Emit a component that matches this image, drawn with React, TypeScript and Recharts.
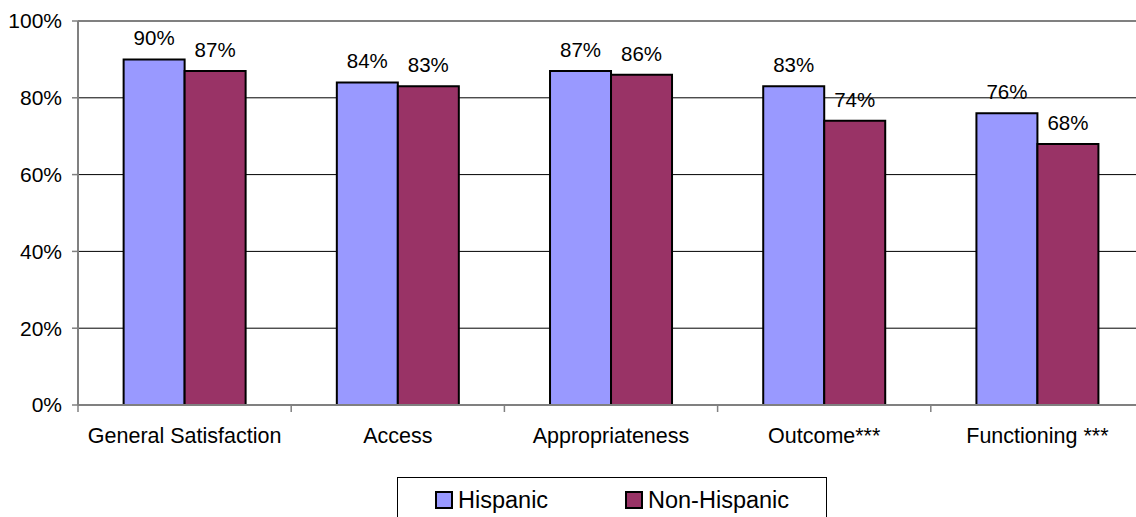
import React from "react";
import {
  BarChart,
  Bar,
  XAxis,
  YAxis,
  CartesianGrid,
  ReferenceLine,
  LabelList,
  Legend,
} from "recharts";

// Survey domains and the share of positive responses (%) by group
const categories = [
  "General Satisfaction",
  "Access",
  "Appropriateness",
  "Outcome***",
  "Functioning ***",
];
const hispanic = [90, 84, 87, 83, 76];
const nonHispanic = [87, 83, 86, 74, 68];
const yTicks = [0, 20, 40, 60, 80, 100];

const seriesNames = { hispanic: "Hispanic", nonHispanic: "Non-Hispanic" };
const colors = { hispanic: "#9999FF", nonHispanic: "#993366" };

const data = categories.map((name, i) => ({
  name,
  hispanic: hispanic[i],
  nonHispanic: nonHispanic[i],
}));

const FONT = "'Liberation Sans', Arial, Helvetica, sans-serif";
const CHART_W = 1150;
const CHART_H = 517;
const MARGIN = { top: 21, right: 6, left: 0, bottom: 52 };
const Y_AXIS_W = 78;
const PLOT_W = CHART_W - MARGIN.left - MARGIN.right - Y_AXIS_W;
const BAND = PLOT_W / categories.length;

// Category label centred under each group, with a tick mark on the group boundary
const CategoryTick = (props: any) => {
  const { x, y, payload } = props;
  return (
    <g>
      <line
        x1={x - BAND / 2}
        x2={x - BAND / 2}
        y1={y}
        y2={y + 7}
        stroke="#808080"
        strokeWidth={1.5}
      />
      <text
        x={x}
        y={y + 30}
        dy="0.355em"
        textAnchor="middle"
        fontFamily={FONT}
        fontSize={21.5}
        fill="#000"
      >
        {payload.value}
      </text>
    </g>
  );
};

const LegendBox = () => {
  const item = (label: string, color: string, left: number) => (
    <div
      style={{
        position: "absolute",
        left,
        top: 10,
        display: "flex",
        alignItems: "center",
        height: 24,
      }}
    >
      <span
        style={{
          display: "inline-block",
          width: 14,
          height: 14,
          background: color,
          border: "2px solid #000",
          marginRight: 5,
        }}
      />
      <span style={{ fontFamily: FONT, fontSize: 23.5, color: "#000", lineHeight: "24px" }}>
        {label}
      </span>
    </div>
  );
  return (
    <div
      style={{
        position: "relative",
        width: 430,
        height: 60,
        border: "1px solid #000",
        boxSizing: "border-box",
        background: "#fff",
      }}
    >
      {item(seriesNames.hispanic, colors.hispanic, 37)}
      {item(seriesNames.nonHispanic, colors.nonHispanic, 227)}
    </div>
  );
};

export default function App() {
  return (
    <div
      style={{
        position: "fixed",
        left: 0,
        top: 0,
        width: 1136,
        height: 517,
        overflow: "hidden",
        background: "#fff",
      }}
    >
      <BarChart
        width={CHART_W}
        height={CHART_H}
        data={data}
        margin={MARGIN}
        barCategoryGap="21.4%"
        barGap={0}
      >
        <CartesianGrid vertical={false} stroke="#000" strokeWidth={1} />
        <XAxis
          dataKey="name"
          height={60}
          axisLine={{ stroke: "#808080", strokeWidth: 2 }}
          tickLine={false}
          tickSize={0}
          tickMargin={0}
          interval={0}
          tick={<CategoryTick />}
        />
        <YAxis
          width={Y_AXIS_W}
          domain={[0, 100]}
          ticks={yTicks}
          interval={0}
          tickFormatter={(v: number) => `${v}%`}
          axisLine={{ stroke: "#808080", strokeWidth: 2 }}
          tickLine={{ stroke: "#808080", strokeWidth: 1.5 }}
          tickSize={6}
          tickMargin={10}
          tick={{ fontFamily: FONT, fontSize: 21, fill: "#000" }}
        />
        <ReferenceLine y={100} stroke="#808080" strokeWidth={2} />
        <Legend
          layout="horizontal"
          verticalAlign="middle"
          align="center"
          content={() => <LegendBox />}
          wrapperStyle={{ position: "absolute", left: 397, top: 477, width: 430, height: 60 }}
        />
        <Bar
          dataKey="hispanic"
          name={seriesNames.hispanic}
          fill={colors.hispanic}
          stroke="#000"
          strokeWidth={2}
          isAnimationActive={false}
        >
          <LabelList
            dataKey="hispanic"
            position="top"
            offset={14}
            formatter={(v: any) => `${v}%`}
            style={{ fontFamily: FONT, fontSize: 20.5, fill: "#000" }}
          />
        </Bar>
        <Bar
          dataKey="nonHispanic"
          name={seriesNames.nonHispanic}
          fill={colors.nonHispanic}
          stroke="#000"
          strokeWidth={2}
          isAnimationActive={false}
        >
          <LabelList
            dataKey="nonHispanic"
            position="top"
            offset={14}
            formatter={(v: any) => `${v}%`}
            style={{ fontFamily: FONT, fontSize: 20.5, fill: "#000" }}
          />
        </Bar>
      </BarChart>
    </div>
  );
}
